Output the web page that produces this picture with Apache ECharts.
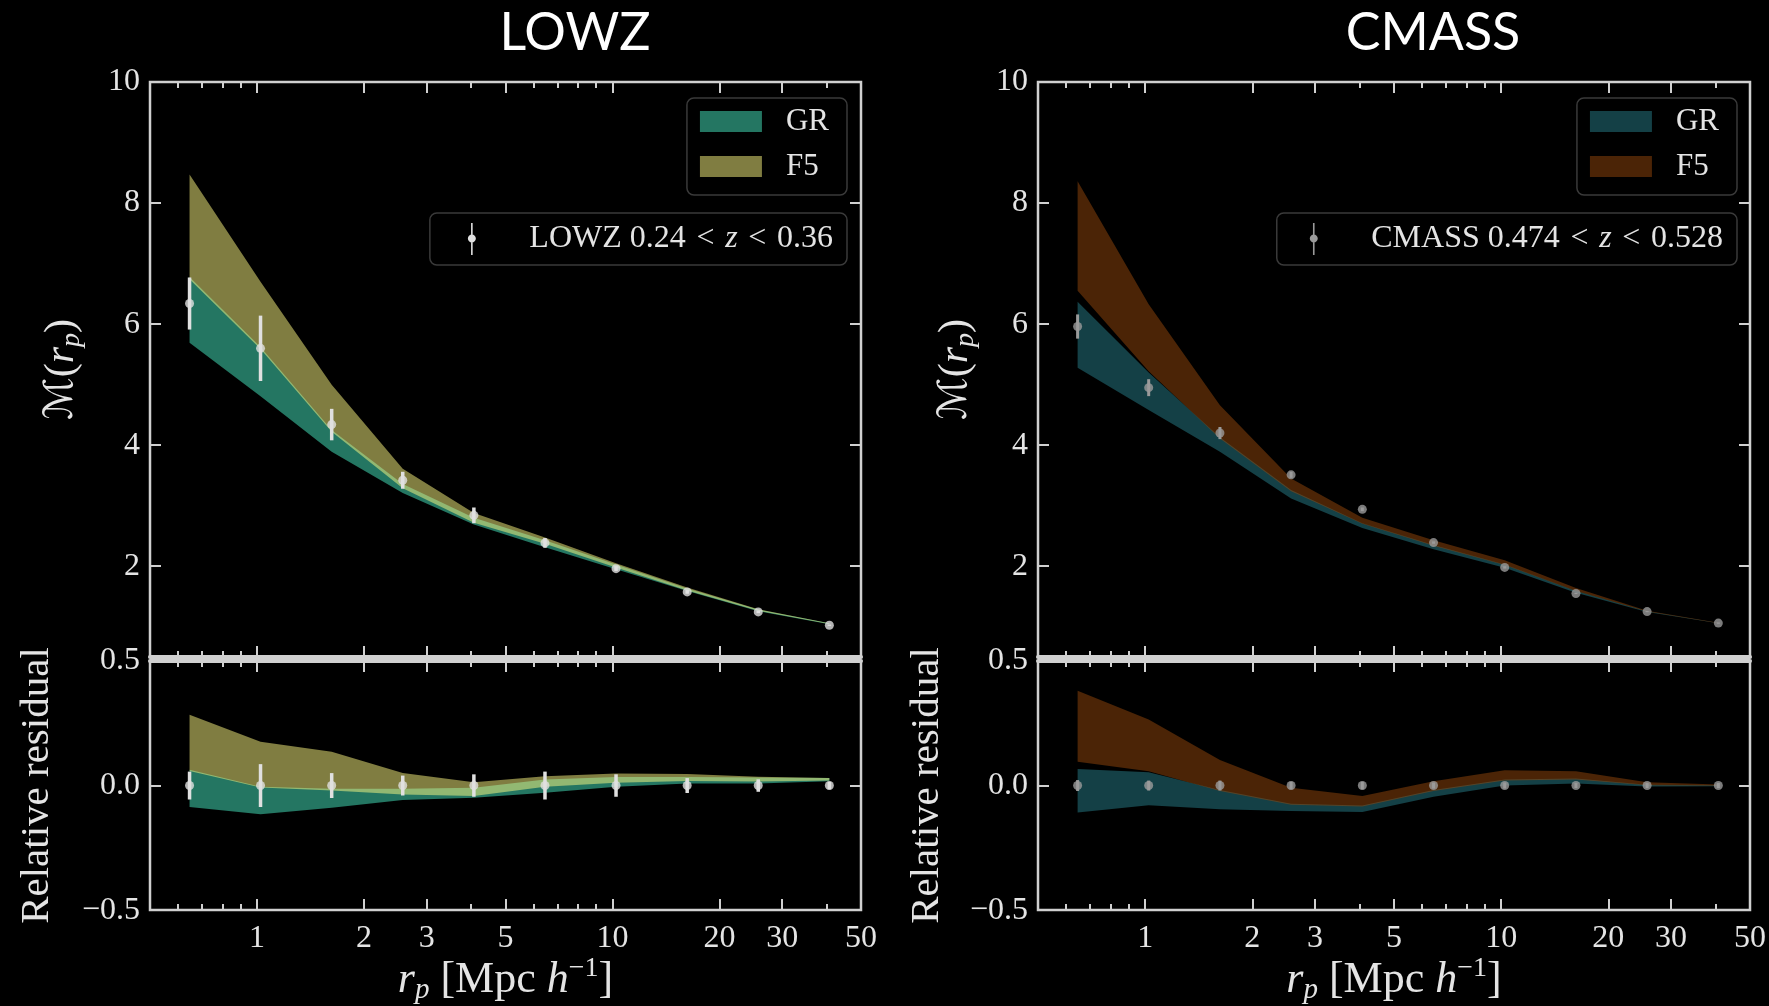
<!DOCTYPE html>
<html><head><meta charset="utf-8">
<script src="https://cdn.jsdelivr.net/npm/echarts@6/dist/echarts.min.js"></script>
<style>html,body{margin:0;padding:0;background:#000;overflow:hidden}#c{width:1769px;height:1006px}</style>
</head><body><div id="c"></div>
<script>
// ---------------- data ----------------
const rp = [0.646, 1.023, 1.622, 2.570, 4.074, 6.457, 10.23, 16.22, 25.70, 40.74];
const xMajorTicks = [1, 2, 3, 5, 10, 20, 30, 50];
const xMinorTicks = [0.6, 0.7, 0.8, 0.9, 4, 6, 7, 8, 9, 40];
const yTopTicks = [2, 4, 6, 8, 10];
const yResTicks = [-0.5, 0, 0.5];

// LOWZ
const lowzM      = [6.34, 5.60, 4.34, 3.42, 2.84, 2.385, 1.96, 1.575, 1.245, 1.025];
const lowzMErr   = [0.43, 0.54, 0.26, 0.14, 0.13, 0.08, 0.04, 0.03, 0.02, 0.01];
const lowzGRLo   = [5.69, 4.81, 3.89, 3.21, 2.69, 2.315, 1.95, 1.59, 1.255, 1.042];
const lowzGRHi   = [6.78, 5.62, 4.25, 3.36, 2.80, 2.43, 2.03, 1.63, 1.285, 1.056];
const lowzF5Lo   = [6.74, 5.59, 4.22, 3.29, 2.72, 2.37, 1.98, 1.60, 1.265, 1.046];
const lowzF5Hi   = [8.47, 6.70, 5.00, 3.61, 2.88, 2.475, 2.05, 1.65, 1.29, 1.056];
const lowzRes    = [0, 0, 0, 0, 0, 0, 0, 0, 0, 0];
const lowzResErr = [0.056, 0.086, 0.05, 0.04, 0.045, 0.056, 0.045, 0.03, 0.025, 0.015];
const lowzResGRLo = [-0.086, -0.115, -0.089, -0.058, -0.049, -0.029, -0.005, 0.008, 0.008, 0.017];
const lowzResGRHi = [0.063, -0.005, -0.013, -0.013, -0.009, 0.024, 0.034, 0.034, 0.032, 0.03];
const lowzResF5Lo = [0.058, -0.008, -0.02, -0.036, -0.042, -0.005, 0.011, 0.018, 0.016, 0.02];
const lowzResF5Hi = [0.284, 0.176, 0.136, 0.05, 0.013, 0.037, 0.048, 0.046, 0.035, 0.03];

// CMASS
const cmassM      = [5.96, 4.95, 4.20, 3.51, 2.94, 2.39, 1.98, 1.55, 1.25, 1.06];
const cmassMErr   = [0.20, 0.14, 0.10, 0.05, 0.03, 0.02, 0.02, 0.01, 0.01, 0.01];
const cmassGRLo   = [5.28, 4.58, 3.89, 3.12, 2.63, 2.28, 1.975, 1.56, 1.245, 1.057];
const cmassGRHi   = [6.37, 5.20, 4.13, 3.26, 2.71, 2.35, 2.03, 1.595, 1.255, 1.062];
const cmassF5Lo   = [6.55, 5.22, 4.11, 3.24, 2.70, 2.34, 2.02, 1.59, 1.252, 1.059];
const cmassF5Hi   = [8.36, 6.33, 4.66, 3.45, 2.80, 2.43, 2.10, 1.64, 1.266, 1.065];
const cmassRes    = [0, 0, 0, 0, 0, 0, 0, 0, 0, 0];
const cmassResErr = [0.022, 0.02, 0.02, 0.015, 0.015, 0.012, 0.012, 0.01, 0.01, 0.01];
const cmassResGRLo = [-0.108, -0.079, -0.095, -0.102, -0.106, -0.045, 0.0, 0.008, -0.004, -0.003];
const cmassResGRHi = [0.066, 0.053, -0.018, -0.073, -0.08, -0.018, 0.024, 0.028, 0.003, 0.001];
const cmassResF5Lo = [0.096, 0.057, -0.022, -0.077, -0.084, -0.022, 0.02, 0.024, 0.001, -0.001];
const cmassResF5Hi = [0.381, 0.265, 0.103, -0.009, -0.042, 0.017, 0.061, 0.057, 0.013, 0.004];

// ---------------- style ----------------
const FRAME = '#d0d0d0';
const TXT = '#e4e4e4';
const SERIF = "'Liberation Serif','DejaVu Serif',serif";
const SANS = "Lato,'Open Sans',sans-serif";
const LOWZ_GR = 'rgba(72,236,196,0.5)';
const LOWZ_F5 = 'rgba(255,250,130,0.5)';
const CMASS_GR = 'rgba(40,128,140,0.5)';
const CMASS_F5 = 'rgba(150,72,12,0.5)';
const ERRICON = 'path://M3.2,0L4.8,0L4.8,32L3.2,32Z M4,11.5C6.2,11.5,8,13.3,8,15.5C8,17.7,6.2,19.5,4,19.5C1.8,19.5,0,17.7,0,15.5C0,13.3,1.8,11.5,4,11.5Z';

const L10 = Math.log10;
const XMIN = L10(0.5), XMAX = L10(50);

const grids = [
  {left: 150, top: 82, width: 711, height: 575},
  {left: 150, top: 661, width: 711, height: 250},
  {left: 1038, top: 82, width: 712, height: 575},
  {left: 1038, top: 661, width: 712, height: 250}
].map(g => Object.assign({show: true, borderColor: FRAME, borderWidth: 2.5, backgroundColor: 'transparent'}, g));

const xName = '{i|r}{s|p}{t| [Mpc }{i|h}{u|\u22121}{t|]}';
const xNameStyle = {
  color: TXT, fontFamily: SERIF, fontSize: 44,
  rich: {
    i: {fontStyle: 'italic', fontFamily: SERIF, fontSize: 44, color: TXT, lineHeight: 50},
    t: {fontFamily: SERIF, fontSize: 44, color: TXT, lineHeight: 50},
    s: {fontStyle: 'italic', fontFamily: SERIF, fontSize: 29, color: TXT, lineHeight: 29, verticalAlign: 'bottom'},
    u: {fontFamily: SERIF, fontSize: 28, color: TXT, lineHeight: 27, verticalAlign: 'top'}
  }
};

const noLine = {show: false, onZero: false};
function xAx(grid, pos, vals, len, extra) {
  return Object.assign({
    gridIndex: grid, type: 'value', position: pos, min: XMIN, max: XMAX,
    axisLine: noLine, splitLine: {show: false},
    axisTick: {show: true, inside: true, length: len, lineStyle: {color: FRAME, width: 2}, customValues: vals.map(L10)},
    axisLabel: {show: false}
  }, extra || {});
}
const sepLine = {show: true, onZero: false, lineStyle: {color: FRAME, width: 4}};
const xLabel = {
  show: true, customValues: xMajorTicks.map(L10), margin: 12,
  formatter: v => String(Math.round(Math.pow(10, v))),
  color: TXT, fontFamily: SERIF, fontSize: 32
};

const xAxes = [];
for (let g = 0; g < 4; g++) {
  const isRes = g % 2 === 1;
  xAxes.push(xAx(g, 'bottom', xMajorTicks, 11, isRes ?
    {axisLabel: xLabel, name: xName, nameLocation: 'middle', nameGap: 40, nameTextStyle: xNameStyle} :
    {axisLine: sepLine}));
  xAxes.push(xAx(g, 'bottom', xMinorTicks, 6));
  xAxes.push(xAx(g, 'top', xMajorTicks, 11, isRes ? {axisLine: sepLine} : {}));
  xAxes.push(xAx(g, 'top', xMinorTicks, 6));
}

const mName = '{m|\u2133}{t|(}{i|r}{s|p}{t|)}';
const mNameStyle = {
  color: TXT, fontFamily: SERIF, fontSize: 42,
  rich: {
    m: {fontFamily: "'DejaVu Serif','DejaVu Sans'", fontSize: 40, color: TXT, lineHeight: 48},
    t: {fontFamily: SERIF, fontSize: 42, color: TXT, lineHeight: 48},
    i: {fontStyle: 'italic', fontFamily: SERIF, fontSize: 42, color: TXT, lineHeight: 48},
    s: {fontStyle: 'italic', fontFamily: SERIF, fontSize: 28, color: TXT, lineHeight: 28, verticalAlign: 'bottom'}
  }
};
const resFmt = v => Math.abs(v) < 1e-9 ? '0.0' : (v < 0 ? '\u2212' + Math.abs(v).toFixed(1) : v.toFixed(1));

function yAx(grid, pos, isRes, extra) {
  const vals = isRes ? yResTicks : yTopTicks;
  return Object.assign({
    gridIndex: grid, type: 'value', position: pos,
    min: isRes ? -0.5 : 0.5, max: isRes ? 0.5 : 10,
    axisLine: noLine, splitLine: {show: false},
    axisTick: {show: true, inside: true, length: 11, lineStyle: {color: FRAME, width: 2}, customValues: vals},
    axisLabel: {show: false}
  }, extra || {});
}
const yAxes = [];
for (let g = 0; g < 4; g++) {
  const isRes = g % 2 === 1;
  const vals = isRes ? yResTicks : yTopTicks;
  yAxes.push(yAx(g, 'left', isRes, {
    axisLabel: {show: true, customValues: vals, margin: 10, formatter: isRes ? resFmt : (v => String(v)),
      color: TXT, fontFamily: SERIF, fontSize: 32},
    name: isRes ? 'Relative residual' : mName, nameLocation: 'middle', nameRotate: 90,
    nameGap: isRes ? (g < 2 ? 92 : 90) : (g < 2 ? 64 : 58),
    nameTextStyle: isRes ? {color: TXT, fontFamily: SERIF, fontSize: 41} : mNameStyle
  }));
  yAxes.push(yAx(g, 'right', isRes));
}

// ---------------- series builders ----------------
function band(name, grid, lo, hi, color) {
  return {
    type: 'custom', name, xAxisIndex: grid * 4, yAxisIndex: grid * 2, silent: true, z: 2,
    itemStyle: {color},
    data: rp.map((r, i) => [L10(r), lo[i], hi[i]]),
    encode: {x: 0, y: [1, 2]},
    renderItem: (params, api) => {
      if (params.dataIndexInside !== 0) return null;
      const n = params.dataInsideLength;
      const up = [], dn = [];
      for (let j = 0; j < n; j++) {
        up.push(api.coord([api.value(0, j), api.value(2, j)]));
        dn.push(api.coord([api.value(0, j), api.value(1, j)]));
      }
      return {type: 'polygon', shape: {points: up.concat(dn.reverse())}, style: {fill: api.visual('color')}};
    }
  };
}
function errbars(name, grid, vals, errs, color, w) {
  return {
    type: 'custom', name, xAxisIndex: grid * 4, yAxisIndex: grid * 2, silent: true, z: 5,
    itemStyle: {color},
    data: rp.map((r, i) => [L10(r), vals[i], errs[i]]),
    encode: {x: 0, y: 1},
    renderItem: (params, api) => {
      const x = api.value(0), y = api.value(1), e = api.value(2);
      const p1 = api.coord([x, y - e]), p2 = api.coord([x, y + e]);
      return {type: 'line', shape: {x1: p1[0], y1: p1[1], x2: p2[0], y2: p2[1]},
        style: {stroke: color, lineWidth: w}};
    }
  };
}
function points(name, grid, vals, color) {
  return {
    type: 'scatter', name, xAxisIndex: grid * 4, yAxisIndex: grid * 2, silent: true, z: 6,
    symbol: 'circle', symbolSize: 9, itemStyle: {color},
    data: rp.map((r, i) => [L10(r), vals[i]])
  };
}

const LCOL = '#e0e0e0', CCOL = '#9a9a9a';
const series = [
  band('GR_L', 0, lowzGRLo, lowzGRHi, LOWZ_GR),
  band('F5_L', 0, lowzF5Lo, lowzF5Hi, LOWZ_F5),
  errbars('LOWZ_data', 0, lowzM, lowzMErr, LCOL, 3.5),
  points('LOWZ_pts', 0, lowzM, LCOL),
  band('GR_L', 1, lowzResGRLo, lowzResGRHi, LOWZ_GR),
  band('F5_L', 1, lowzResF5Lo, lowzResF5Hi, LOWZ_F5),
  errbars('LOWZ_res', 1, lowzRes, lowzResErr, LCOL, 3.5),
  points('LOWZ_respts', 1, lowzRes, LCOL),
  band('GR_C', 2, cmassGRLo, cmassGRHi, CMASS_GR),
  band('F5_C', 2, cmassF5Lo, cmassF5Hi, CMASS_F5),
  errbars('CMASS_data', 2, cmassM, cmassMErr, CCOL, 3),
  points('CMASS_pts', 2, cmassM, CCOL),
  band('GR_C', 3, cmassResGRLo, cmassResGRHi, CMASS_GR),
  band('F5_C', 3, cmassResF5Lo, cmassResF5Hi, CMASS_F5),
  errbars('CMASS_res', 3, cmassRes, cmassResErr, CCOL, 3),
  points('CMASS_respts', 3, cmassRes, CCOL)
];

const legBase = {
  orient: 'vertical', selectedMode: false, backgroundColor: '#000',
  borderColor: '#3a3a3a', borderWidth: 1.5, borderRadius: 7
};
const legText = {color: TXT, fontFamily: SERIF, fontSize: 31, lineHeight: 30};
function bandLegend(names, right) {
  return Object.assign({}, legBase, {
    data: names, right, top: 98, icon: 'rect', itemWidth: 62, itemHeight: 21, itemGap: 14,
    padding: [8, 18, 13, 13], formatter: n => n.split('_')[0],
    textStyle: Object.assign({padding: [0, 0, 0, 19]}, legText)
  });
}
const legText2 = {color: TXT, fontFamily: SERIF, fontSize: 32, lineHeight: 30};
function dataLegend(name, text, right, padLeft) {
  return Object.assign({}, legBase, {
    data: [name], right, top: 213, icon: ERRICON, itemWidth: 61, itemHeight: 32,
    padding: [10, 14, 10, padLeft], formatter: () => text,
    textStyle: Object.assign({padding: [0, 0, 0, 22], rich: {i: Object.assign({fontStyle: 'italic'}, legText2)}}, legText2)
  });
}
const S = '\u2004';

const option = {
  backgroundColor: '#000',
  animation: false,
  grid: grids,
  xAxis: xAxes,
  yAxis: yAxes,
  legend: [
    bandLegend(['GR_L', 'F5_L'], 922),
    dataLegend('LOWZ_data', 'LOWZ 0.24' + S + '<' + S + '{i|z}' + S + '<' + S + '0.36', 922, 38),
    bandLegend(['GR_C', 'F5_C'], 32),
    dataLegend('CMASS_data', 'CMASS 0.474' + S + '<' + S + '{i|z}' + S + '<' + S + '0.528', 32, 33)
  ],
  graphic: [
    {type: 'text', x: 575, y: 33, style: {text: 'LOWZ', fill: '#fff', font: '52px ' + SANS, textAlign: 'center', textVerticalAlign: 'middle', align: 'center', verticalAlign: 'middle'}},
    {type: 'text', x: 1433, y: 33, style: {text: 'CMASS', fill: '#fff', font: '52px ' + SANS, textAlign: 'center', textVerticalAlign: 'middle', align: 'center', verticalAlign: 'middle'}}
  ],
  series
};

const chart = echarts.init(document.getElementById('c'), null, {renderer: 'canvas'});
chart.setOption(option);
</script>
</body></html>
